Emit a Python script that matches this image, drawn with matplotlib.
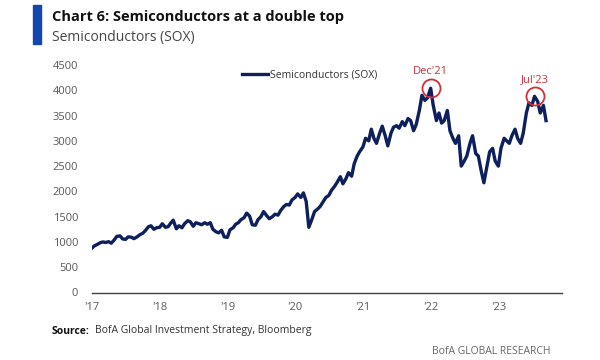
# Chart 6: Semiconductors at a double top (SOX), redrawn from the BofA chart

import matplotlib
matplotlib.use('Agg')
import matplotlib.pyplot as plt
import numpy as np
import pandas as pd

plt.rcParams['font.family'] = ['Open Sans', 'DejaVu Sans']

# semi-monthly readings (1st and 15th of every month), Jan 2017 .. Sep 2023
dates = pd.date_range('2017-01-01', '2023-09-15', freq='SMS')

sox_2017 = [880, 925, 955, 985, 1000, 990, 1005, 975, 1040, 1110, 1120, 1060,
            1050, 1100, 1095, 1065, 1100, 1140, 1170, 1220, 1300, 1320, 1250, 1280]
sox_2018 = [1290, 1360, 1290, 1300, 1370, 1430, 1260, 1320, 1280, 1360, 1420, 1400,
            1310, 1380, 1360, 1340, 1380, 1350, 1380, 1250, 1200, 1180, 1230, 1100]
sox_2019 = [1090, 1240, 1280, 1350, 1380, 1440, 1480, 1570, 1510, 1340, 1330, 1440,
            1500, 1600, 1520, 1460, 1500, 1550, 1530, 1620, 1700, 1740, 1730, 1830]
sox_2020 = [1880, 1950, 1880, 1970, 1800, 1290, 1450, 1600, 1650, 1700, 1800, 1880,
            1920, 2020, 2100, 2180, 2290, 2150, 2250, 2370, 2300, 2550, 2700, 2790]
sox_2021 = [2880, 3050, 3000, 3230, 3050, 2950, 3150, 3290, 3100, 2900, 3150, 3270,
            3300, 3250, 3380, 3300, 3440, 3400, 3200, 3320, 3600, 3900, 3800, 3850]
sox_2022 = [4040, 3700, 3400, 3550, 3350, 3400, 3600, 3200, 3050, 2950, 3100, 2500,
            2600, 2700, 2950, 3100, 2750, 2700, 2400, 2170, 2500, 2780, 2850, 2600]
sox_2023 = [2500, 2850, 3050, 3000, 2950, 3100, 3230, 3050, 2950, 3150, 3550, 3750,
            3700, 3880, 3780, 3550, 3700, 3400]

sox = np.array(sox_2017 + sox_2018 + sox_2019 + sox_2020 + sox_2021 + sox_2022 + sox_2023)

year_ticks = pd.date_range('2017-01-01', '2023-01-01', freq='YS')
year_labels = ["'17", "'18", "'19", "'20", "'21", "'22", "'23"]
y_ticks = [0, 500, 1000, 1500, 2000, 2500, 3000, 3500, 4000, 4500]

peak_labels = ["Dec'21", "Jul'23"]
peak_windows = [('2021-10-01', '2022-03-01'), ('2023-05-01', '2023-09-30')]

navy = '#0d1f5c'
red = '#d0303a'
grey = '#595959'

fig = plt.figure(figsize=(6, 3.6), dpi=100)
ax = fig.add_axes([0.1533, 0.1875, 0.7833, 0.632])

ax.plot(dates, sox, color=navy, lw=2.4, solid_joinstyle='round', label='Semiconductors (SOX)')

ax.set_ylim(0, 4500)
ax.set_xlim(pd.Timestamp('2017-01-01'), pd.Timestamp('2023-12-10'))
ax.set_yticks(y_ticks)
ax.set_yticklabels([str(v) for v in y_ticks])
ax.set_xticks(year_ticks)
ax.set_xticklabels(year_labels)
ax.tick_params(axis='both', length=0, labelsize=8, labelcolor=grey)
ax.tick_params(axis='y', pad=10)
ax.tick_params(axis='x', pad=7)
for side in ['top', 'right', 'left']:
    ax.spines[side].set_visible(False)
ax.spines['bottom'].set_color('#404040')
ax.spines['bottom'].set_linewidth(1.0)

# circles round the two tops
for lab, (start, end) in zip(peak_labels, peak_windows):
    mask = (dates >= start) & (dates <= end)
    i = np.argmax(np.where(mask, sox, -1))
    ax.plot(dates[i], sox[i], marker='o', ms=13, mfc='none', mec=red, mew=1.3)
    ax.annotate(lab, (dates[i], sox[i]), xytext=(0, 8), textcoords='offset points',
                ha='center', va='bottom', color=red, fontsize=8)

leg = ax.legend(loc='upper left', bbox_to_anchor=(0.3, 1.02), frameon=False,
                fontsize=7.5, handlelength=2.5, handletextpad=0.2)
for t in leg.get_texts():
    t.set_color('#333333')

# header
fig.patches.append(plt.Rectangle((33 / 600, 1 - 44 / 360), 8 / 600, 39 / 360,
                                 transform=fig.transFigure, color='#1546b0'))
fig.text(52 / 600, 1 - 17 / 360, 'Chart 6: Semiconductors at a double top',
         fontsize=10.5, fontweight='bold', color='#111111', va='center')
fig.text(52 / 600, 1 - 37 / 360, 'Semiconductors (SOX)',
         fontsize=10, color='#444444', va='center')

# footer
fig.text(52 / 600, 1 - 331 / 360, 'Source:', fontsize=7.5, fontweight='bold',
         color='#111111', va='center')
fig.text(95 / 600, 1 - 331 / 360, 'BofA Global Investment Strategy, Bloomberg',
         fontsize=7.5, color='#333333', va='center')
fig.text(551 / 600, 1 - 351 / 360, 'BofA GLOBAL RESEARCH', fontsize=7.5,
         color='#666666', va='center', ha='right')

fig.savefig('out.png', dpi=100, facecolor='white')
